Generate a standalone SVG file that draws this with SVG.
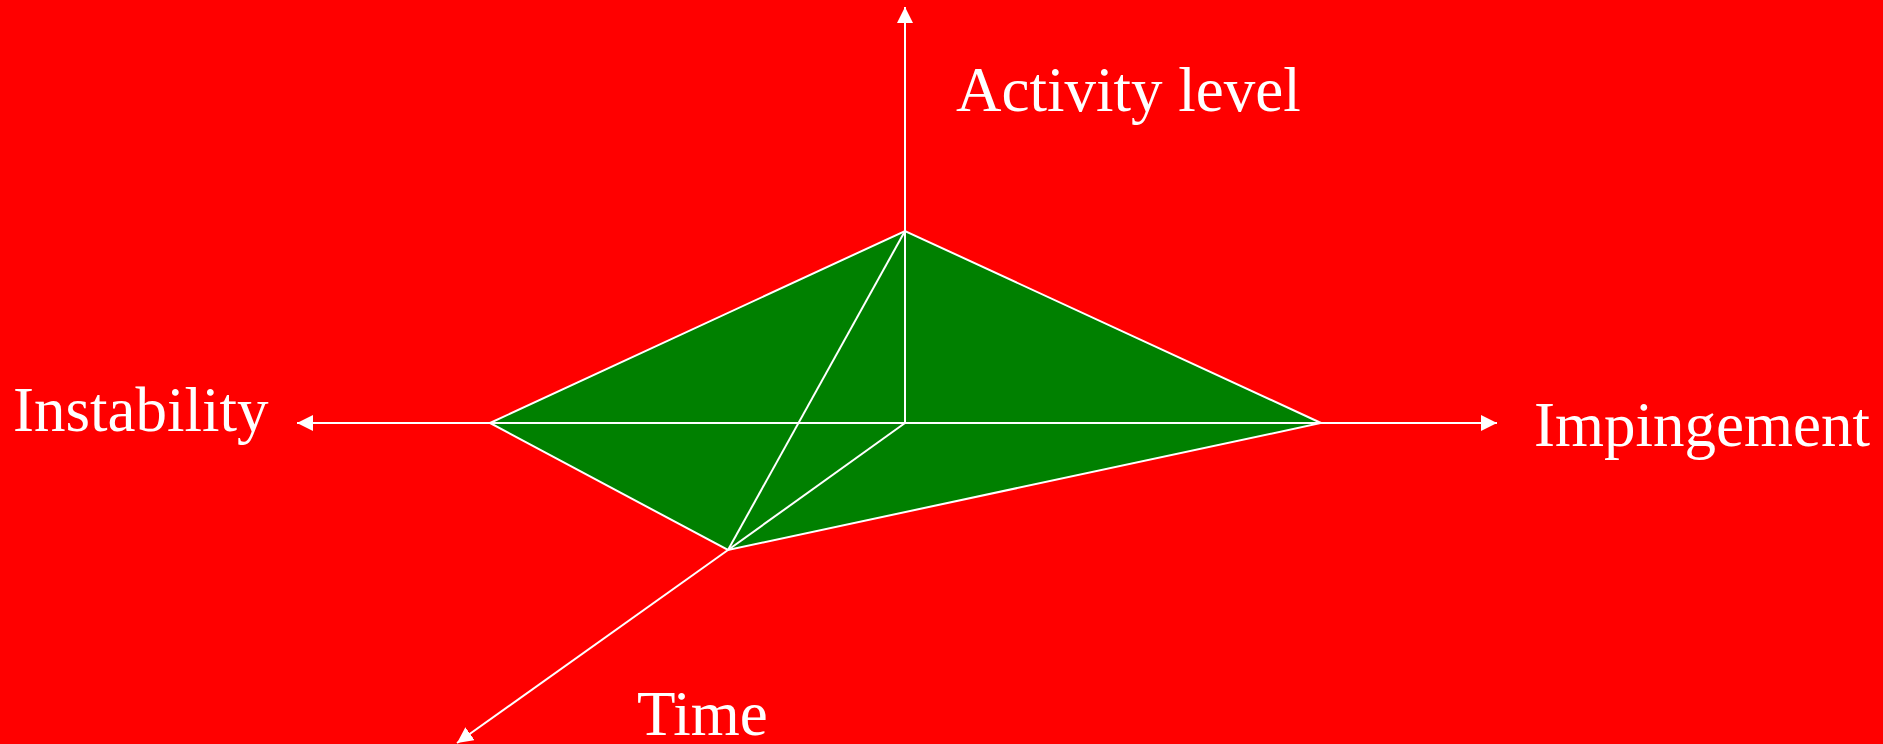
<svg xmlns="http://www.w3.org/2000/svg" width="1883" height="744" viewBox="0 0 1883 744">
  <style>
    .ln { stroke: #ffffff; stroke-width: 2; fill: none; }
    .face { fill: #008000; stroke: #ffffff; stroke-width: 2; stroke-linejoin: miter; }
    .lbl { font-family: "Liberation Serif", "Times New Roman", serif; font-size: 63px; fill: #ffffff; }
  </style>
  <defs>
    <marker id="arrow" viewBox="0 0 16 16" refX="16" refY="8" markerWidth="16" markerHeight="16" markerUnits="userSpaceOnUse" orient="auto">
      <path d="M0,0 L16,8 L0,16 z" fill="#ffffff"/>
    </marker>
  </defs>
  <rect x="0" y="0" width="1883" height="744" fill="#ff0000"/>
  <g id="shape">
    <polygon class="face" points="490,423 905,231 1321,423 728,550"/>
  </g>
  <g id="connectors">
    <line class="ln" x1="490" y1="423" x2="1321" y2="423"/>
    <line class="ln" x1="905" y1="231" x2="905" y2="423"/>
    <line class="ln" x1="905" y1="231" x2="728" y2="550"/>
    <line class="ln" x1="905" y1="423" x2="728" y2="550"/>
    <line class="ln" x1="905" y1="231" x2="905" y2="7" marker-end="url(#arrow)"/>
    <line class="ln" x1="490" y1="423" x2="297" y2="423" marker-end="url(#arrow)"/>
    <line class="ln" x1="1321" y1="423" x2="1497" y2="423" marker-end="url(#arrow)"/>
    <line class="ln" x1="728" y1="550" x2="457" y2="743" marker-end="url(#arrow)"/>
  </g>
  <g id="label-activity"><text class="lbl" x="956" y="111">Activity level</text></g>
  <g id="label-instability"><text class="lbl" x="13" y="431">Instability</text></g>
  <g id="label-impingement"><text class="lbl" x="1534" y="446">Impingement</text></g>
  <g id="label-time"><text class="lbl" x="637" y="735">Time</text></g>
</svg>
